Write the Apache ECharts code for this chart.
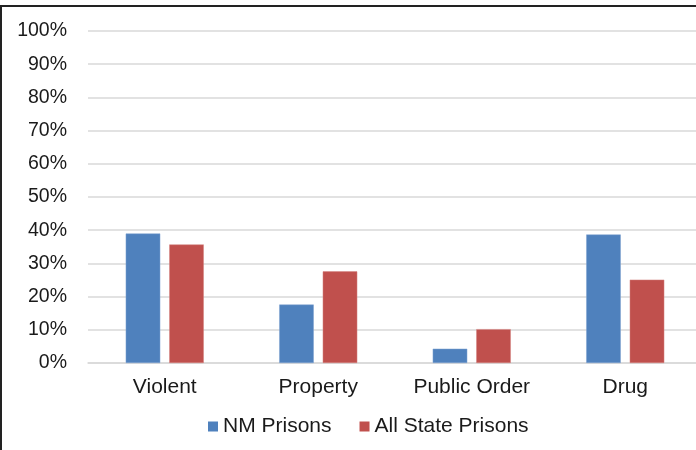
<!DOCTYPE html>
<html>
<head>
<meta charset="utf-8">
<script src="https://cdn.jsdelivr.net/npm/echarts@6/dist/echarts.min.js"></script>
<style>
  html, body { margin: 0; padding: 0; background: #fff; overflow: hidden; }
  #wrap { width: 696px; height: 450px; overflow: hidden; }
  /* 图表区略宽于视口，右侧被裁切 */
  #chart { width: 704px; height: 450px; }
</style>
</head>
<body>
<div id="wrap"><div id="chart"></div></div>
<script>
// 数据
const categories = ["Violent", "Property", "Public Order", "Drug"];
const nmPrisons = [39.0, 17.6, 4.3, 38.7];
const allStatePrisons = [35.7, 27.6, 10.2, 25.1];
const seriesNames = ["NM Prisons", "All State Prisons"];

const FONT = "Liberation Sans, Arial, sans-serif";
const TEXT_COLOR = "#1a1a1a";

const chart = echarts.init(document.getElementById("chart"), null, { renderer: "canvas" });

chart.setOption({
  animation: false,
  color: ["#4F81BD", "#C0504D"],
  textStyle: { fontFamily: FONT },
  // 外框线（上、左）
  graphic: [
    { type: "line", shape: { x1: 0, y1: 6, x2: 704, y2: 6 }, style: { stroke: "#222", lineWidth: 2 } },
    { type: "line", shape: { x1: 1, y1: 6, x2: 1, y2: 450 }, style: { stroke: "#222", lineWidth: 2 } },
  ],
  legend: {
    bottom: 8,
    left: 203,
    itemWidth: 10,
    itemHeight: 10,
    itemGap: 28,
    icon: "rect",
    itemStyle: { borderWidth: 0 },
    textStyle: { fontFamily: FONT, fontSize: 21, color: TEXT_COLOR },
    data: seriesNames,
  },
  grid: { left: 88, top: 31, width: 614, height: 332 },
  xAxis: {
    type: "category",
    data: categories,
    axisLine: { lineStyle: { color: "#D9D9D9", width: 1.5 } },
    axisTick: { show: false },
    axisLabel: { fontFamily: FONT, fontSize: 21, color: TEXT_COLOR, margin: 14 },
  },
  yAxis: {
    type: "value",
    min: 0,
    max: 100,
    interval: 10,
    axisLine: { show: false },
    axisTick: { show: false },
    axisLabel: { fontFamily: FONT, fontSize: 19.5, color: TEXT_COLOR, margin: 21, formatter: "{value}%" },
    splitLine: { lineStyle: { color: "#D9D9D9", width: 1.5 } },
  },
  series: [
    {
      name: seriesNames[0], type: "bar", data: nmPrisons,
      barWidth: "22.5%", barGap: "26%",
      itemStyle: { borderColor: "#7FA3D1", borderWidth: 0.5 },
    },
    {
      name: seriesNames[1], type: "bar", data: allStatePrisons,
      barWidth: "22.5%",
      itemStyle: { borderColor: "#D58583", borderWidth: 0.5 },
    },
  ],
});
</script>
</body>
</html>
